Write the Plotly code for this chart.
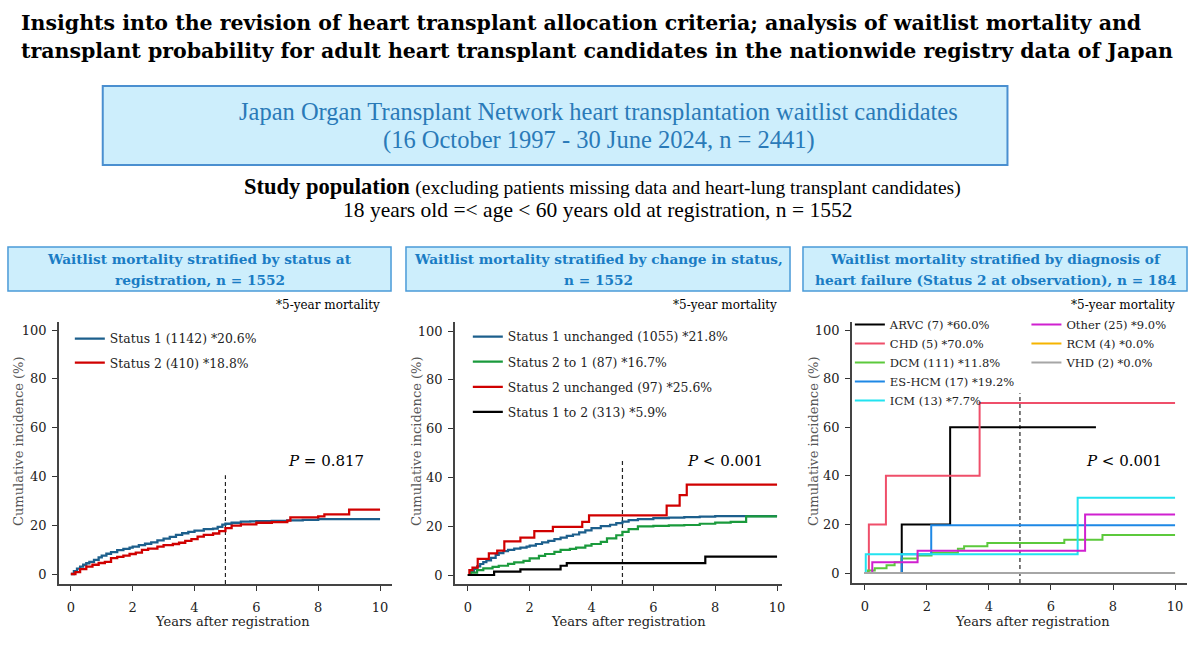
import plotly.graph_objects as go

W, H = 1200, 653

# ---------------- data ----------------
# Panel 1: status at registration
s1_t = [0,0.1,0.2,0.3,0.4,0.5,0.6,0.75,0.9,1.0,1.15,1.3,1.5,1.7,1.9,2.0,2.2,2.4,2.6,2.8,3.0,3.2,3.4,3.6,3.8,4.0,4.3,4.6,4.75,4.9,5.0,5.2,5.5,5.8,6.0,6.5,7.0,7.5,8.0,10.0]
s1_v = [0,1.2,2.2,3.0,3.8,4.4,5.0,5.8,6.8,7.5,8.3,9.0,9.8,10.3,10.8,11.2,11.8,12.4,13.0,13.8,14.5,15.2,16.0,16.7,17.3,17.8,18.4,18.6,19.3,20.2,20.6,21.0,21.5,21.6,21.7,21.8,22.0,22.2,22.5,22.5]
s2_t = [0,0.15,0.3,0.5,0.7,0.9,1.1,1.3,1.5,1.7,1.9,2.1,2.3,2.5,2.8,3.0,3.3,3.5,3.7,3.9,4.1,4.3,4.6,4.8,5.0,5.2,5.5,6.0,6.5,7.0,7.1,8.0,8.2,9.0,10.0]
s2_v = [0,0.8,2.0,3.0,3.8,4.5,5.0,6.5,7.0,7.5,8.2,8.8,9.9,10.4,11.2,11.8,12.3,12.8,13.6,14.3,15.3,16.0,16.6,17.6,18.8,19.8,20.3,21.0,21.3,21.9,23.2,23.6,24.4,26.4,26.4]
p1_names = ["Status 1 (1142) *20.6%", "Status 2 (410) *18.8%"]
p1_colors = ["#1c5f8c", "#d00000"]

# Panel 2: change in status
m1_t = [0,0.1,0.2,0.3,0.4,0.5,0.6,0.75,0.9,1.0,1.15,1.3,1.5,1.7,1.9,2.0,2.2,2.4,2.6,2.8,3.0,3.2,3.4,3.6,3.8,4.0,4.3,4.6,4.8,5.0,5.2,5.5,6.0,6.5,7.0,7.5,8.0,10.0]
m1_v = [0,1.3,2.5,3.5,4.5,5.3,6.0,7.0,8.2,9.0,9.8,10.3,10.8,11.2,11.6,12.0,12.7,13.4,14.0,14.7,15.3,16.0,16.6,17.5,18.3,19.2,20.0,20.6,21.3,21.9,22.5,22.9,23.3,23.5,23.7,23.9,24.1,24.1]
m2_t = [0,0.1,0.3,0.5,0.8,1.0,1.3,1.5,1.8,2.0,2.3,2.5,2.8,3.0,3.3,3.5,3.8,4.0,4.3,4.5,4.8,5.0,5.2,5.5,6.0,6.5,7.0,7.5,8.0,8.5,9.0,10.0]
m2_v = [0,1.0,2.0,2.7,3.3,3.8,4.6,5.2,5.8,6.8,7.8,8.6,9.5,10.3,10.7,11.2,12.0,12.7,13.6,15.0,16.3,17.7,18.8,19.9,20.1,20.3,20.5,21.0,21.5,21.8,24.0,24.0]
m3_t = [0,0.05,0.15,0.32,0.68,0.95,1.18,1.7,2.15,2.75,3.7,3.92,6.43,6.85,7.08,10.0]
m3_v = [0,2.0,3.0,6.6,8.9,10.0,13.8,15.3,18.0,19.7,21.8,24.4,28.4,32.7,37.0,37.0]
m4_t = [0,0.85,1.7,3.0,3.2,7.68,10.0]
m4_v = [0,1.4,2.3,3.8,4.9,7.5,7.5]
p2_names = ["Status 1 unchanged (1055) *21.8%", "Status 2 to 1 (87) *16.7%",
            "Status 2 unchanged (97) *25.6%", "Status 1 to 2 (313) *5.9%"]
p2_colors = ["#1c5f8c", "#1a9a3c", "#d00000", "#000000"]

# Panel 3: diagnosis of heart failure
arvc_t = [0,1.19,2.75,7.45];            arvc_v = [0,20,60,60]
chd_t = [0,0.13,0.68,3.7,10];           chd_v = [0,20,40,70,70]
dcm_t = [0,0.1,0.32,0.7,0.96,1.18,1.7,2.15,3.0,3.2,3.95,6.43,7.66,10]
dcm_v = [0,1.0,2.0,3.2,4.4,6.0,7.2,8.3,10.0,11.0,12.3,13.7,15.6,15.6]
eshcm_t = [0,1.19,2.14,10];             eshcm_v = [0,7.7,19.6,19.6]
icm_t = [0,0.03,6.86,10];               icm_v = [0,7.7,31,31]
other_t = [0,0.24,1.7,7.1,10];          other_v = [0,4.4,9.2,24.1,24.1]
rcm_t = [0,10];                         rcm_v = [0,0]
vhd_t = [0,10];                         vhd_v = [0,0]
p3_names = ["ARVC (7) *60.0%", "CHD (5) *70.0%", "DCM (111) *11.8%", "ES-HCM (17) *19.2%",
            "ICM (13) *7.7%", "Other (25) *9.0%", "RCM (4) *0.0%", "VHD (2) *0.0%"]
p3_colors = ["#000000", "#ef4f6a", "#5cc93c", "#1e88e5", "#22e3f0", "#d020d0", "#f5b400", "#a6a6a6"]

x_ticks = [0, 2, 4, 6, 8, 10]
y_ticks = [0, 20, 40, 60, 80, 100]
p_texts = ["<i>P</i> = 0.817", "<i>P</i> < 0.001", "<i>P</i> < 0.001"]
panel_titles = [["Waitlist mortality stratified by status at", "registration, n = 1552"],
                ["Waitlist mortality stratified by change in status,", "n = 1552"],
                ["Waitlist mortality stratified by diagnosis of", "heart failure (Status 2 at observation), n = 184"]]

SERIF = "DejaVu Serif"

def px(x):
    return x / W

def py(y):
    return 1 - y / H

fig = go.Figure()

def add(t, v, name, color, xa, ya, legend, group, width=2):
    fig.add_trace(go.Scatter(x=t, y=v, mode="lines", line=dict(color=color, width=width, shape="hv"),
                             name=name, xaxis=xa, yaxis=ya, legend=legend, legendgroup=group))

add(s1_t, s1_v, p1_names[0], p1_colors[0], "x", "y", "legend", "a1", 2.3)
add(s2_t, s2_v, p1_names[1], p1_colors[1], "x", "y", "legend", "a2", 2.3)

add(m1_t, m1_v, p2_names[0], p2_colors[0], "x2", "y2", "legend2", "b1", 2.2)
add(m2_t, m2_v, p2_names[1], p2_colors[1], "x2", "y2", "legend2", "b2", 2.2)
add(m3_t, m3_v, p2_names[2], p2_colors[2], "x2", "y2", "legend2", "b3", 2.2)
add(m4_t, m4_v, p2_names[3], p2_colors[3], "x2", "y2", "legend2", "b4", 2.2)

p3_data = [(arvc_t, arvc_v), (chd_t, chd_v), (dcm_t, dcm_v), (eshcm_t, eshcm_v),
           (icm_t, icm_v), (other_t, other_v), (rcm_t, rcm_v), (vhd_t, vhd_v)]
for i, (t, v) in enumerate(p3_data):
    add(t, v, p3_names[i], p3_colors[i], "x3", "y3", "legend3" if i < 5 else "legend4", "c%d" % i)

# axes: pixel geometry of each panel
panels = [
    dict(xl=59, xr=393, x0=71, x10=381, yb=584, yt=322, y0=574, y100=330),
    dict(xl=456, xr=784, x0=469, x10=779, yb=584, yt=322, y0=575, y100=331),
    dict(xl=854, xr=1190, x0=867, x10=1178, yb=583, yt=322, y0=573, y100=330),
]
y_bottoms = []
for i, p in enumerate(panels):
    sx = (p["x10"] - p["x0"]) / 10.0
    sy = (p["y0"] - p["y100"]) / 100.0
    xr = [(p["xl"] - p["x0"]) / sx, (p["xr"] - p["x0"]) / sx]
    yr = [(p["y0"] - p["yb"]) / sy, (p["y0"] - p["yt"]) / sy]
    y_bottoms.append(yr[0])
    sfx = "" if i == 0 else str(i + 1)
    fig.layout["xaxis" + sfx] = dict(domain=[px(p["xl"]), px(p["xr"])], range=xr, anchor="y" + sfx,
                                     tickvals=x_ticks, ticks="outside", ticklen=5, tickwidth=1.2,
                                     tickcolor="#333", showline=True, linecolor="#444", linewidth=1.5,
                                     showgrid=False, zeroline=False, ticklabelstandoff=6,
                                     tickfont=dict(family=SERIF, size=13, color="#222"))
    fig.layout["yaxis" + sfx] = dict(domain=[py(p["yb"]), py(p["yt"])], range=yr, anchor="x" + sfx,
                                     tickvals=y_ticks, ticks="outside", ticklen=5, tickwidth=1.2,
                                     tickcolor="#333", showline=True, linecolor="#444", linewidth=1.5,
                                     showgrid=False, zeroline=False, ticklabelstandoff=3,
                                     tickfont=dict(family=SERIF, size=13, color="#222"))

shapes = []
annotations = []

# dashed 5-year lines
dash_tops = [40.5, 47.5, 74]
for i, top in enumerate(dash_tops):
    sfx = "" if i == 0 else str(i + 1)
    shapes.append(dict(type="line", xref="x" + sfx, yref="y" + sfx, x0=5, x1=5, y0=y_bottoms[i], y1=top,
                       line=dict(color="#222", width=1.2, dash="4px,3px"), layer="below"))

# header box
shapes.append(dict(type="rect", xref="paper", yref="paper", x0=px(103), x1=px(1010), y0=py(165), y1=py(86),
                   fillcolor="#cdeefc", line=dict(color="#4a8fd0", width=2), layer="below"))
# panel title boxes
box_lr = [(8, 392), (407, 792), (805, 1190)]
for (l, r) in box_lr:
    shapes.append(dict(type="rect", xref="paper", yref="paper", x0=px(l), x1=px(r), y0=py(291), y1=py(247),
                       fillcolor="#cdeefc", line=dict(color="#4a9ad8", width=1.5), layer="below"))

def ann(x, y, text, size, color="#000", family=SERIF, xanchor="center", angle=0, align="center"):
    annotations.append(dict(xref="paper", yref="paper", x=px(x), y=py(y), text=text, showarrow=False,
                            xanchor=xanchor, yanchor="middle", textangle=angle, align=align,
                            font=dict(family=family, size=size, color=color)))

ann(19, 23, "<b>Insights into the revision of heart transplant allocation criteria; analysis of waitlist mortality and</b>",
    20.5, xanchor="left")
ann(19, 51, "<b>transplant probability for adult heart transplant candidates in the nationwide registry data of Japan</b>",
    20.5, xanchor="left")

ann(600, 112, "Japan Organ Transplant Network heart transplantation waitlist candidates", 24.5,
    color="#2a7ab8", family="Liberation Serif")
ann(600, 140, "(16 October 1997 - 30 June 2024, n = 2441)", 24.5, color="#2a7ab8", family="Liberation Serif")

ann(604, 186, "<b>Study population</b> <span style='font-size:19.5px'>(excluding patients missing data and heart-lung transplant candidates)</span>",
    22.5, family="Liberation Serif")
ann(599, 210, "18 years old =< age < 60 years old at registration, n = 1552", 21.5, family="Liberation Serif")

for i, (l, r) in enumerate(box_lr):
    ann((l + r) / 2, 259, "<b>" + panel_titles[i][0] + "</b>", 13.7, color="#1a7cc4")
    ann((l + r) / 2, 280, "<b>" + panel_titles[i][1] + "</b>", 13.7, color="#1a7cc4")

for xr_ in [383, 781, 1180]:
    ann(xr_, 305, "*5-year mortality", 12, xanchor="right")

for i, xc in enumerate([327, 727, 1127]):
    ann(xc, 461, p_texts[i], 15)

for xc in [18, 417, 815]:
    ann(xc, 441, "Cumulative incidence (%)", 13, color="#555", angle=-90)
for xc in [233, 630, 1035]:
    ann(xc, 621, "Years after registration", 13, color="#222")

leg_common = dict(bgcolor="rgba(0,0,0,0)", borderwidth=0, yanchor="top", xanchor="left",
                  itemclick=False, itemdoubleclick=False)
fig.update_layout(
    width=W, height=H, margin=dict(l=0, r=0, t=0, b=0),
    paper_bgcolor="white", plot_bgcolor="white",
    shapes=shapes, annotations=annotations,
    legend=dict(x=px(70), y=py(324), tracegroupgap=5, font=dict(family=SERIF, size=12.4, color="#222"), **leg_common),
    legend2=dict(x=px(469), y=py(322), tracegroupgap=6, font=dict(family=SERIF, size=12.4, color="#222"), **leg_common),
    legend3=dict(x=px(852), y=py(310), tracegroupgap=0, font=dict(family=SERIF, size=11.5, color="#222"), **leg_common),
    legend4=dict(x=px(1029), y=py(310), tracegroupgap=0, font=dict(family=SERIF, size=11.5, color="#222"), **leg_common),
)

fig.write_html("out.html")
